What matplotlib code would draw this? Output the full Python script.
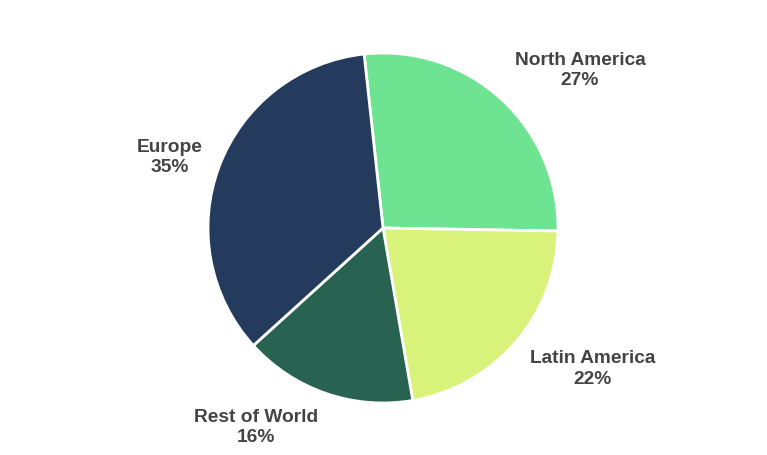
import matplotlib
matplotlib.use("Agg")
import matplotlib.pyplot as plt
import numpy as np

regions = ["North America", "Latin America", "Rest of World", "Europe"]
shares = [27, 22, 16, 35]
colors = ["#6ee391", "#d8f27a", "#276350", "#243b5e"]

# label anchor positions in pie-radius units
label_x = [1.126, 1.20, -0.726, -1.217]
label_y = [0.902, -0.806, -1.138, 0.405]

plt.rcParams['font.family'] = ['Liberation Sans', 'DejaVu Sans']

fig = plt.figure(figsize=(7.67, 4.55), dpi=100)
ax = fig.add_axes([0, 0, 1, 1])

ax.pie(shares, colors=colors, startangle=96.2, counterclock=False,
       radius=1, wedgeprops=dict(edgecolor="white", linewidth=2))

for name, val, lx, ly in zip(regions, shares, label_x, label_y):
    ax.text(lx, ly, f"{name}\n{val}%", ha="center", va="center",
            fontsize=13.8, fontweight="bold", color="#444444", linespacing=1.25)

r = 175.0
ax.set_xlim(-383 / r, (767 - 383) / r)
ax.set_ylim(-227 / r, 228 / r)
ax.set_aspect("equal")
ax.axis("off")

fig.savefig("out.png", dpi=100)
